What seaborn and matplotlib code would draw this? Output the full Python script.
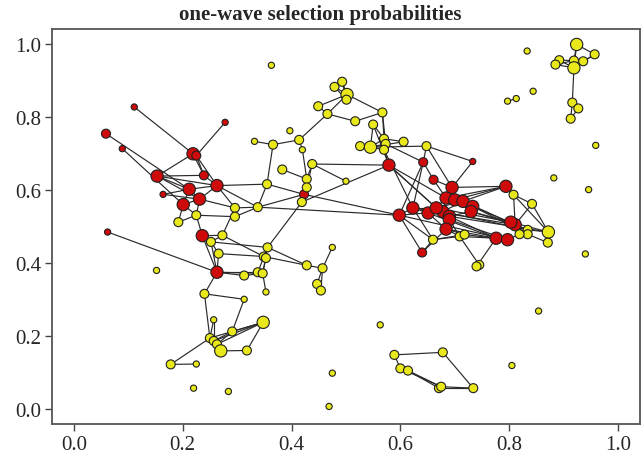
import matplotlib
matplotlib.use("Agg")
import matplotlib.pyplot as plt
import seaborn as sns
import pandas as pd

# ---------------- data ----------------
node_id = ["R1","R2","R3","R4","R5","R6","R7","R8","R9","R10","R11","R12","R13","R14","R15","R16",
           "R17","R18","R19","R20","R21","R22","R23","R24","R25","R26","R27","R28","R29","R30",
           "R31","R32","R33","R34","R35","R36","R37","R38","R39","R40","R41",
           "Y1","Y2","Y3","Y4","Y5","Y6","Y7","Y8","Y9","Y10","Y11","Y12","Y13","Y14","Y15","Y16",
           "Y17","Y18","Y19","Y20","Y21","Y22","Y23","Y24","Y25","Y26","Y27","Y28","Y29","Y30",
           "Y31","Y32","Y33","Y34","Y35","Y37","Y38","Y39","Y40","Y41","Y42","Y43","Y44","Y45",
           "Y46","Y47","Y48","Y49","Y50","Y51","Y52","Y53","Y54","Y55","Y56","Y57","Y58","Y59",
           "Y60","Y61","Y62","Y63","Y64","Y65","Y66","Y67","Y68","Y69","Y70","Y71","Y72","Y73",
           "Y74","Y75","Y76","Y77","Y78","Y79","Y80","Y81","Y82","Y83","Y84","Y85","Y86","Y87",
           "Y88","Y89","Y90","Y91","Y92","Y93","Y94","Y95","Y96","Y97","Y98","Y99","Y100","Y101",
           "Y102","Y103","Y104","Y105","Y106","Y107"]
node_x = [0.111,0.278,0.059,0.089,0.219,0.225,0.153,0.239,0.263,0.212,0.164,0.231,0.201,0.236,0.062,0.263,
          0.423,0.579,0.642,0.733,0.661,0.695,0.794,0.684,0.700,0.715,0.733,0.730,0.678,0.690,
          0.690,0.684,0.623,0.598,0.651,0.666,0.640,0.811,0.776,0.797,0.803,
          0.225,0.192,0.296,0.296,0.338,0.355,0.273,0.252,0.266,0.356,0.349,0.353,0.428,0.152,0.313,0.338,
          0.347,0.353,0.240,0.313,0.257,0.348,0.291,0.250,0.257,0.263,0.270,0.318,0.178,0.225,
          0.220,0.284,0.469,0.475,0.475,0.457,0.447,0.454,0.363,0.479,0.493,0.502,0.501,0.449,
          0.466,0.517,0.567,0.550,0.397,0.332,0.366,0.414,0.420,0.526,0.545,0.570,0.573,0.570,
          0.606,0.648,0.438,0.383,0.500,0.428,0.428,0.419,0.808,0.842,0.882,0.660,0.709,0.718,
          0.834,0.834,0.819,0.872,0.871,0.745,0.740,0.946,0.940,0.854,0.563,0.833,0.924,0.957,
          0.892,0.885,0.919,0.919,0.936,0.844,0.797,0.813,0.916,0.927,0.913,0.959,0.589,0.678,
          0.600,0.614,0.805,0.671,0.675,0.734]
node_y = [0.827,0.785,0.754,0.713,0.699,0.694,0.638,0.640,0.612,0.602,0.588,0.575,0.560,0.475,0.485,0.375,
          0.588,0.668,0.676,0.678,0.628,0.607,0.610,0.578,0.573,0.569,0.555,0.541,0.541,0.528,
          0.519,0.493,0.551,0.531,0.537,0.551,0.429,0.505,0.468,0.464,0.512,
          0.531,0.512,0.551,0.527,0.553,0.616,0.476,0.458,0.426,0.443,0.418,0.414,0.394,0.380,0.366,0.375,
          0.372,0.321,0.316,0.301,0.245,0.238,0.213,0.195,0.187,0.178,0.160,0.161,0.123,0.124,
          0.058,0.049,0.008,0.099,0.443,0.386,0.343,0.325,0.941,0.882,0.896,0.861,0.847,0.829,
          0.808,0.788,0.812,0.779,0.762,0.733,0.724,0.737,0.710,0.720,0.717,0.740,0.726,0.710,
          0.732,0.720,0.671,0.656,0.624,0.630,0.607,0.567,0.587,0.562,0.633,0.464,0.473,0.478,
          0.491,0.479,0.479,0.485,0.456,0.395,0.391,0.601,0.425,0.269,0.231,0.980,0.998,0.971,
          0.955,0.943,0.954,0.934,0.952,0.870,0.843,0.850,0.839,0.823,0.795,0.722,0.149,0.156,
          0.112,0.106,0.120,0.058,0.062,0.058]
# size class: 1 small, 2 medium, 3 large
node_size = [1,1,2,1,3,2,3,2,3,3,1,3,3,3,1,3,
             2,3,2,1,2,3,3,3,3,3,3,3,3,3,
             3,3,3,3,3,3,2,3,3,3,3,
             2,2,2,2,2,2,2,2,2,2,2,2,2,1,2,2,
             2,1,2,1,1,3,2,2,2,2,3,2,2,1,
             1,1,1,1,1,2,2,2,1,2,2,3,2,2,
             2,2,2,2,1,1,2,2,1,2,3,2,2,2,
             2,2,2,2,1,2,2,2,2,2,1,2,2,2,
             2,2,2,3,2,2,2,1,1,1,1,1,3,2,
             2,2,2,3,2,1,1,1,2,2,2,1,2,2,
             2,2,1,2,2,2]

edge_from = ["R1","R2","R3","R4","R5","R5","R6","R6","R5","R7","R7","R7","R7","R10","R11","R11","R10","R10","R13","R12","R8",
             "R9","R12","R9","R9","Y1","Y1","Y1","Y1","Y1","Y2","R14","Y3","Y3","Y4","Y5","Y7","Y7","Y8","Y8","Y9","R14","Y7",
             "R15","R16","R16","R16","R16","R16","R16","Y15","Y16","Y17","Y17","Y11","Y10","Y18","Y10","Y13","Y35","Y37","Y37",
             "R16","Y19","Y20","Y19","Y21","Y22","Y22","Y22","Y22","Y22","Y23","Y23","Y24","Y29","Y27","Y25","Y24","Y21",
             "Y6","Y51","Y52","Y53","Y53","Y54","Y63","Y62","Y62","Y62","Y62","Y67","R17","Y5","Y6","Y65","Y66","Y67","Y5",
             "Y41","Y41","Y42","Y42","Y41","Y43","Y45","Y45","Y46","Y46","Y47","Y43","Y48","Y48","Y49","Y49","Y49","Y55",
             "Y56","Y56","Y56","Y56","Y56","Y57","Y58","Y59","Y57","Y58","Y59",
             "Y61","Y61","Y61","R18","R18","R18","R19","R19","R19","R20","R21","R21","R22","R24","R25","R26","R23","Y68",
             "Y68","Y69","Y68","Y69","R33","R34","R37","Y71","Y71","Y71","Y72","R39","Y77","Y74","Y75","R38","R40","R38",
             "R41","R39",
             "R22","R22","R24","R25","R26","R27","R24","R29","R30","R31","R29","R36","R35","R33","R34","R24","R25","R26",
             "R28","R32","R32","R31","R29","R36","R27","R28","R26","R24","R30","R31","R32","R33","R34","R35","R36","R29",
             "R30","R28","R27","Y72","Y73","Y71","R32","R37",
             "Y86","Y86","Y86","Y87","Y87","Y88","Y89","Y90","Y91","Y88","Y88","Y89","Y91","Y96","Y96","Y97","Y94",
             "Y100","Y100","Y102","Y103","Y103","Y102","Y105","Y106","Y101"]
edge_to = ["R5","R6","R10","R13","R7","R8","R8","R9","R6","R8","R10","R12","R9","R9","R10","R12","R12","R13","R12","R9","R9",
           "Y6","Y3","Y3","Y5","R12","R13","Y2","R14","Y4","R13","Y7","Y4","Y5","Y5","Y6","Y3","Y11","Y9","Y10","Y11","Y8","Y8",
           "R16","Y8","Y9","Y15","Y16","R14","Y17","Y17","Y10","Y10","Y12","Y13","Y13","Y17","Y67","Y37","Y37","Y38","Y39",
           "Y19","Y20","Y23","Y24","Y25","Y24","Y25","Y26","Y23","Y28","Y25","Y26","Y29","Y30","Y28","Y27","Y26","Y24",
           "Y52","Y52","Y53","Y54","Y46","Y65","Y65","Y66","Y65","R18","Y64","R18","R34","R17","R17","R17","R17","R17","R34",
           "Y42","Y43","Y43","Y44","Y44","Y44","Y43","Y46","Y43","Y47","Y48","Y48","Y57","Y58","Y56","Y57","R18","Y56",
           "Y57","Y58","Y59","Y60","Y61","Y60","R19","R33","Y58","Y59","R18",
           "R20","R19","R22","R24","R36","R31","R21","R33","R34","R22","R22","R24","R23","R23","R23","R23","Y68","Y69",
           "Y77","Y77","R38","R38","R34","R37","Y71","Y72","Y73","R33","Y79","Y80","Y78","Y77","Y78","Y74","Y76","R41",
           "Y75","R40",
           "R24","R25","R25","R26","R27","R28","R29","R30","R31","R32","R36","R35","R33","R36","R29","R36","R28","R29",
           "R30","Y72","Y73","Y72","R32","R26","R38","R38","R38","R27","R39","R40","R39","R38","R40","R39","R41","Y74",
           "Y77","Y77","Y75","R39","R40","R34","R35","R32",
           "Y87","Y90","Y91","Y92","Y91","Y90","Y91","Y92","Y92","Y89","Y91","Y90","Y96","Y97","Y98","Y98","Y95",
           "Y101","Y102","Y103","Y105","Y106","Y106","Y107","Y107","Y107"]

# ---------------- figure ----------------
sns.set_style("ticks")
plt.rcParams['font.family'] = ['Liberation Serif', 'DejaVu Serif']

nodes = pd.DataFrame({"id": node_id, "x": node_x, "y": node_y, "size": node_size})
nodes["group"] = nodes["id"].str[0].map({"R": "high", "Y": "low"})
pos = nodes.set_index("id")[["x", "y"]]

fig = plt.figure(figsize=(6.43, 4.56), dpi=100)
ax = fig.add_axes([0.081, 0.068, 0.914, 0.866])

for a, b in zip(edge_from, edge_to):
    ax.plot([pos.loc[a, "x"], pos.loc[b, "x"]], [pos.loc[a, "y"], pos.loc[b, "y"]],
            color="#2a2a2a", lw=0.85, zorder=1)

sns.scatterplot(data=nodes, x="x", y="y", hue="group", size="size",
                palette={"high": "#cf0a0a", "low": "#e8e81a"},
                sizes={1: 20, 2: 42, 3: 78}, edgecolor="#202020", linewidth=0.8,
                legend=False, ax=ax, zorder=3)

ax.set_xlim(-0.04, 1.04)
ax.set_ylim(-0.04, 1.04)
ax.set_xticks([0.0, 0.2, 0.4, 0.6, 0.8, 1.0])
ax.set_yticks([0.0, 0.2, 0.4, 0.6, 0.8, 1.0])
ax.set_xticklabels(["0.0", "0.2", "0.4", "0.6", "0.8", "1.0"])
ax.set_yticklabels(["0.0", "0.2", "0.4", "0.6", "0.8", "1.0"])
ax.set_xlabel("")
ax.set_ylabel("")
ax.tick_params(axis="both", direction="out", length=5, width=1.0, color="#444444",
               labelsize=15, pad=3)
for s in ax.spines.values():
    s.set_visible(True)
    s.set_color("#555555")
    s.set_linewidth(1.3)
fig.text(0.498, 0.967, "one-wave selection probabilities", fontsize=15, fontweight="bold",
         ha="center", va="center")

fig.savefig("out.png", dpi=100)
